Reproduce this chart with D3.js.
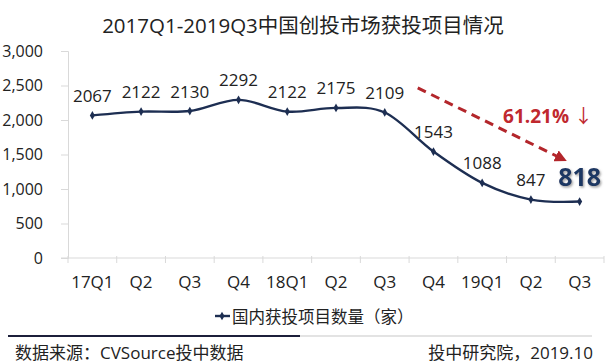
<!DOCTYPE html>
<html><head><meta charset="utf-8">
<script src="https://cdn.jsdelivr.net/npm/d3@7"></script>
<style>
html,body{margin:0;padding:0;background:#fff;}
svg{display:block;}
text{font-family:"Open Sans","Noto Sans CJK SC",sans-serif;}
</style></head>
<body>
<svg id="c" width="610" height="362"></svg>
<script>
const title = "2017Q1-2019Q3中国创投市场获投项目情况";
const categories = ["17Q1","Q2","Q3","Q4","18Q1","Q2","Q3","Q4","19Q1","Q2","Q3"];
const values = [2067,2122,2130,2292,2122,2175,2109,1543,1088,847,818];
const yTicks = [0,500,1000,1500,2000,2500,3000];
const seriesName = "国内获投项目数量（家）";
const dropText = "61.21%";
const sourceText = "数据来源：CVSource投中数据";
const creditText = "投中研究院，2019.10";

const svg = d3.select("#c");
const navy = "#1d2e52";
const x = d3.scaleBand().domain(d3.range(categories.length)).range([68,604]);
const cx = i => x(i) + x.bandwidth()/2;
const y = d3.scaleLinear().domain([0,3000]).range([258,51]);

const defs = svg.append("defs");
const f = defs.append("filter").attr("id","sh").attr("x","-20%").attr("y","-20%").attr("width","150%").attr("height","150%");
f.append("feDropShadow").attr("dx",1.2).attr("dy",1.5).attr("stdDeviation",1).attr("flood-color","#777").attr("flood-opacity",0.7);
defs.append("marker").attr("id","ah").attr("viewBox","0 0 10 10").attr("refX",8).attr("refY",5)
  .attr("markerWidth",4).attr("markerHeight",4).attr("orient","auto").attr("markerUnits","strokeWidth")
  .append("path").attr("d","M0,0 L10,5 L0,10 Z").attr("fill","#b3262b");

// title
svg.append("text").attr("x",303).attr("y",25).attr("text-anchor","middle").attr("dominant-baseline","central")
  .attr("font-size",20.5).attr("fill","#222").text(title);

// y axis
const yAxis = d3.axisLeft(y).tickValues(yTicks).tickSize(7).tickPadding(18).tickFormat(d3.format(","));
const gy = svg.append("g").attr("transform","translate(68,0)").call(yAxis);
gy.select(".domain").attr("stroke","#d9d9d9");
gy.selectAll(".tick line").attr("stroke","#d9d9d9");
gy.selectAll(".tick text").attr("font-size",16).attr("fill","#222").attr("x",-25)
  .style("font-family",'"Open Sans","Noto Sans CJK SC",sans-serif');

// x axis
const gx = svg.append("g").attr("transform","translate(0,258)");
gx.append("line").attr("x1",61).attr("x2",604).attr("stroke","#d9d9d9");
gx.selectAll("line.t").data(d3.range(categories.length+1)).join("line").attr("class","t")
  .attr("x1",i=>i<categories.length?x(i):x(categories.length-1)+x.bandwidth())
  .attr("x2",i=>i<categories.length?x(i):x(categories.length-1)+x.bandwidth())
  .attr("y1",-2).attr("y2",5).attr("stroke","#d9d9d9");
gx.selectAll("text").data(categories).join("text").attr("x",(d,i)=>cx(i)).attr("y",23)
  .attr("text-anchor","middle").attr("dominant-baseline","central").attr("font-size",17).attr("fill","#222").text(d=>d);

// line
const line = d3.line().x((d,i)=>cx(i)).y(d=>y(d)).curve(d3.curveCardinal.tension(0));
svg.append("path").datum(values).attr("d",line).attr("fill","none").attr("stroke",navy).attr("stroke-width",2.4);
const diamond = d3.symbol().type(d3.symbolDiamond).size(22);
svg.selectAll("path.pt").data(values).join("path").attr("class","pt")
  .attr("transform",(d,i)=>`translate(${cx(i)},${y(d)})`).attr("d",diamond).attr("fill",navy);

// labels
const last = values.length-1;
svg.selectAll("text.lbl").data(values.slice(0,last)).join("text").attr("class","lbl")
  .attr("x",(d,i)=>cx(i)).attr("y",d=>y(d)-20).attr("text-anchor","middle").attr("dominant-baseline","central")
  .attr("font-size",17).attr("fill","#222").text(d=>d);
svg.append("text").attr("x",cx(last)).attr("y",y(values[last])-26).attr("text-anchor","middle").attr("dominant-baseline","central")
  .attr("font-size",25).attr("font-weight","bold").attr("fill","#1f3864").attr("filter","url(#sh)").text(values[last]);

// red arrow
const red = "#b3262b";
svg.append("line")
  .attr("x1",cx(6)+33).attr("y1",y(2465))
  .attr("x2",cx(last)-15).attr("y2",y(1420))
  .attr("stroke",red).attr("stroke-width",3).attr("stroke-dasharray","9,6").attr("marker-end","url(#ah)");
const t = svg.append("text").attr("x",593).attr("y",y(2065)).attr("text-anchor","end").attr("dominant-baseline","central")
  .attr("fill","#c0282e").attr("font-size",19);
t.append("tspan").attr("font-weight","bold").text(dropText+" ");
t.append("tspan").text("↓");

// legend
const lg = svg.append("g").attr("transform","translate(0,316)");
lg.append("line").attr("x1",215).attr("x2",230).attr("stroke",navy).attr("stroke-width",2.4);
lg.append("path").attr("transform","translate(222,0)").attr("d",diamond).attr("fill",navy);
lg.append("text").attr("x",232).attr("y",0).attr("dominant-baseline","central").attr("font-size",16.5).attr("fill","#222").text(seriesName);

// footer
svg.append("line").attr("x1",300).attr("x2",592).attr("y1",336).attr("y2",336).attr("stroke","#e3e3e3").attr("stroke-width",2);
svg.append("line").attr("x1",8).attr("x2",300).attr("y1",336).attr("y2",336).attr("stroke","#1c1f3a").attr("stroke-width",2);
svg.append("text").attr("x",15).attr("y",352).attr("dominant-baseline","central").attr("font-size",17).attr("fill","#222").text(sourceText);
svg.append("text").attr("x",593).attr("y",352).attr("text-anchor","end").attr("dominant-baseline","central").attr("font-size",17).attr("fill","#222").text(creditText);
</script>
</body></html>
